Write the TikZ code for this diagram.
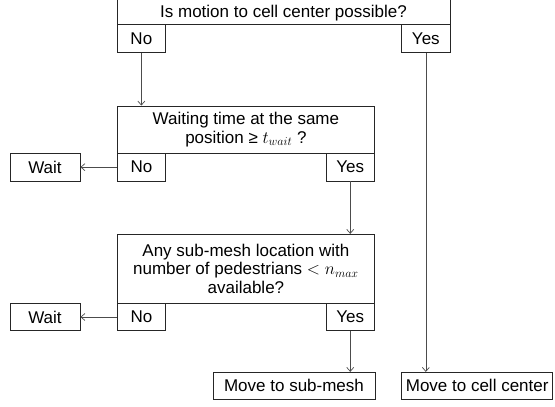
\documentclass[tikz,border=0pt]{standalone}
\usepackage{fontspec}
\setmainfont{Liberation Sans}
\usetikzlibrary{arrows.meta}
\begin{document}
\begin{tikzpicture}[x=1pt,y=-1pt,
  box/.style={draw=black!85, line width=0.8pt, inner sep=0pt, align=center,
    font=\fontsize{17}{18.3}\selectfont, text=black},
  conn/.style={draw=black!70, line width=0.7pt, -{Straight Barb[length=4pt,width=7pt]}}]
\useasboundingbox (0,0) rectangle (555,407);
\node[box, minimum width=333pt, text height=20.2pt, text depth=6.8pt] (top) at (283.5,11.2) {Is motion to cell center possible?};
\node[box, minimum width=48.7pt, minimum height=27.6pt] (no1) at (141.35,38.5) {No};
\node[box, minimum width=48.3pt, minimum height=27.6pt] (yes1) at (425.85,38.5) {Yes};
\node[box, minimum width=257.2pt, minimum height=47.3pt] (box2) at (245.9,129.65) {Waiting time at the same\\position ≥ $t_{wait}$ ?};
\node[box, minimum width=48.4pt, minimum height=27.7pt] (no2) at (141.5,167.15) {No};
\node[box, minimum width=48.5pt, minimum height=27.7pt] (yes2) at (350.25,167.15) {Yes};
\node[box, minimum width=70pt, minimum height=27.7pt] (wait1) at (45,167.15) {Wait};
\node[box, minimum width=257.2pt, minimum height=69pt] (box3) at (245.9,268.8) {Any sub-mesh location with\\number of pedestrians $<n_{max}$\\available?};
\node[box, minimum width=48.4pt, minimum height=27.4pt] (no3) at (141.5,317) {No};
\node[box, minimum width=48.5pt, minimum height=27.4pt] (yes3) at (350.25,317) {Yes};
\node[box, minimum width=70pt, minimum height=27.4pt] (wait2) at (45,317) {Wait};
\node[box, minimum width=162pt, minimum height=26.7pt] (sub) at (294,385.65) {Move to sub-mesh};
\node[box, minimum width=151pt, minimum height=26.7pt] (cell) at (477.2,385.65) {Move to cell center};
\draw[conn] (no1.south) -- (no1.south |- box2.north);
\draw[conn] (yes1.south) -- (yes1.south |- cell.north);
\draw[conn] (no2.west) -- (wait1.east);
\draw[conn] (yes2.south) -- (yes2.south |- box3.north);
\draw[conn] (no3.west) -- (wait2.east);
\draw[conn] (yes3.south) -- (yes3.south |- sub.north);
\end{tikzpicture}
\end{document}
